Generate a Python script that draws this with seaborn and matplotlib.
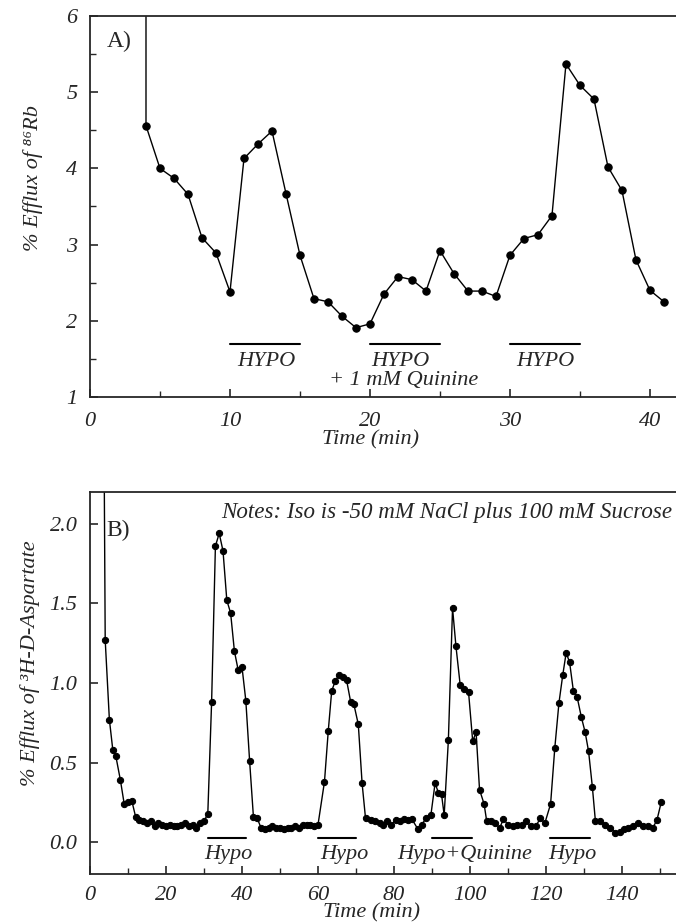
import matplotlib
matplotlib.use("Agg")
import pandas as pd
import matplotlib.pyplot as plt
import seaborn as sns

# Panel A: % efflux of 86Rb (first value is off scale, top of the wash-out)
time_a = [4, 4, 5, 6, 7, 8, 9, 10, 11, 12, 13, 14, 15, 16, 17, 18, 19, 20, 21, 22,
          23, 24, 25, 26, 27, 28, 29, 30, 31, 32, 33, 34, 35, 36, 37, 38, 39, 40, 41]
efflux_a = [7.0, 4.56, 4.00, 3.87, 3.66, 3.09, 2.89, 2.38, 4.13, 4.32, 4.49, 3.67, 2.86,
            2.29, 2.25, 2.06, 1.91, 1.96, 2.35, 2.58, 2.54, 2.39, 2.92, 2.62, 2.39, 2.39,
            2.32, 2.86, 3.08, 3.13, 3.38, 5.37, 5.09, 4.91, 4.02, 3.71, 2.80, 2.40, 2.25]
bars_a = [(10, 15), (20, 25), (30, 35)]
labels_a = ["HYPO", "HYPO", "HYPO"]
label_x_a = [12.6, 22.2, 32.5]

# Panel B: % efflux of 3H-D-aspartate
time_b = [3.7, 4, 5.1, 6, 6.8, 8, 9, 10, 11, 12,
          13, 14, 15, 16, 17, 18, 19, 20, 21, 22, 23, 24, 25, 26, 27, 28, 29, 30, 31,
          32, 33, 34, 35, 36, 37, 38, 39, 40, 41, 42, 43, 44,
          45, 46, 47, 48, 49, 50, 51, 52, 53, 54, 55, 56, 57, 58, 59, 60,
          61.7, 62.7, 63.6, 64.5, 65.5, 66.5, 67.5, 68.6, 69.4, 70.6, 71.6, 72.5,
          73.9, 75, 76.2, 77.1, 78.2, 79.3, 80.5, 81.5, 82.5, 83.6, 84.7, 86.2, 87.3, 88.4, 89.7,
          90.8, 91.7, 92.5, 93.2, 94.3, 95.4, 96.3, 97.4, 98.5, 99.6, 100.7, 101.6, 102.5, 103.7, 104.4,
          105.4, 106.6, 107.8, 108.8, 110, 111.2, 112.4, 113.6, 114.8, 116, 117.3, 118.5, 119.7,
          121.2, 122.3, 123.4, 124.4, 125.3, 126.2, 127.2, 128.2, 129.3, 130.3, 131.2, 132.2, 133,
          134.3, 135.6, 136.9, 138.2, 139.4, 140.5, 141.7, 143, 144.3, 145.6, 146.9, 148.1, 149.2, 150.3]
efflux_b = [2.5, 1.27, 0.77, 0.58, 0.54, 0.39, 0.24, 0.25, 0.26, 0.16,
            0.14, 0.13, 0.12, 0.13, 0.10, 0.12, 0.11, 0.10, 0.11, 0.10, 0.10, 0.11, 0.12, 0.10, 0.11, 0.09, 0.12, 0.13, 0.18,
            0.88, 1.86, 1.94, 1.83, 1.52, 1.44, 1.20, 1.08, 1.10, 0.89, 0.51, 0.16, 0.15,
            0.09, 0.08, 0.09, 0.10, 0.09, 0.09, 0.08, 0.09, 0.09, 0.10, 0.09, 0.11, 0.11, 0.11, 0.10, 0.11,
            0.38, 0.70, 0.95, 1.01, 1.05, 1.04, 1.02, 0.88, 0.87, 0.74, 0.37, 0.15,
            0.14, 0.13, 0.12, 0.11, 0.13, 0.11, 0.14, 0.13, 0.145, 0.14, 0.145, 0.085, 0.11, 0.15, 0.17,
            0.37, 0.31, 0.30, 0.17, 0.64, 1.47, 1.23, 0.99, 0.965, 0.945, 0.635, 0.69, 0.33, 0.24, 0.13,
            0.13, 0.12, 0.09, 0.145, 0.11, 0.10, 0.11, 0.11, 0.13, 0.10, 0.10, 0.15, 0.12,
            0.24, 0.59, 0.875, 1.05, 1.19, 1.13, 0.95, 0.91, 0.785, 0.69, 0.57, 0.345, 0.13,
            0.13, 0.11, 0.09, 0.06, 0.065, 0.08, 0.09, 0.10, 0.12, 0.10, 0.10, 0.09, 0.14, 0.25]
bars_b = [(31, 41), (60, 70), (90, 100.5), (121, 131.5)]
labels_b = ["Hypo", "Hypo", "Hypo+Quinine", "Hypo"]
label_x_b = [36.3, 66.9, 98.6, 127.0]

sns.set_style("ticks")
fams = ["Liberation Serif", "DejaVu Serif"]
plt.rcParams["font.family"] = fams
plt.rcParams["font.style"] = "italic"
plt.rcParams["axes.linewidth"] = 1.3
plt.rcParams["xtick.direction"] = "in"
plt.rcParams["ytick.direction"] = "in"

fig = plt.figure(figsize=(6.76, 9.22), dpi=100)
axA = fig.add_axes([90 / 676, 1 - 397 / 922, 1 - 90 / 676, 381 / 922])
axB = fig.add_axes([90 / 676, 1 - 874 / 922, 1 - 90 / 676, 382 / 922])

dfA = pd.DataFrame({"t": time_a, "e": efflux_a})
dfB = pd.DataFrame({"t": time_b, "e": efflux_b})

sns.lineplot(data=dfA, x="t", y="e", ax=axA, sort=False, estimator=None, color="black",
             linewidth=1.0, marker="o", markersize=5.3, markeredgecolor="black")
sns.lineplot(data=dfB, x="t", y="e", ax=axB, sort=False, estimator=None, color="black",
             linewidth=1.0, marker="o", markersize=4.5, markeredgecolor="black")

fs = 16

# panel A layout
axA.set_xlim(0, 41.86)
axA.set_ylim(1, 6)
axA.set_xticks([0, 10, 20, 30, 40])
axA.set_xticks([5, 15, 25, 35], minor=True)
axA.set_yticks([1, 2, 3, 4, 5, 6])
axA.set_yticks([1.5, 2.5, 3.5, 4.5, 5.5], minor=True)
for (x0, x1), lab, lx in zip(bars_a, labels_a, label_x_a):
    axA.plot([x0, x1], [1.69, 1.69], color="black", linewidth=1.5)
    axA.text(lx, 1.46, lab, ha="center", va="center", fontsize=fs)
axA.text(22.4, 1.22, "+ 1 mM Quinine", ha="center", va="center", fontsize=fs)
axA.text(1.2, 5.67, "A)", ha="left", va="center", fontsize=fs + 1, style="normal")
axA.set_ylabel("% Efflux of ⁸⁶Rb", fontsize=fs)
axA.set_xlabel("Time (min)", fontsize=fs)
axA.yaxis.set_label_coords(-0.08, 0.575)
axA.xaxis.set_label_coords(0.478, -0.088)

# panel B layout
axB.set_xlim(0, 154.2)
axB.set_ylim(-0.2, 2.2)
axB.set_xticks([0, 20, 40, 60, 80, 100, 120, 140])
axB.set_xticks([10, 30, 50, 70, 90, 110, 130, 150], minor=True)
axB.set_yticks([0.0, 0.5, 1.0, 1.5, 2.0])
axB.set_yticklabels(["0.0", "0.5", "1.0", "1.5", "2.0"])
for (x0, x1), lab, lx in zip(bars_b, labels_b, label_x_b):
    axB.plot([x0, x1], [0.025, 0.025], color="black", linewidth=1.5)
    axB.text(lx, -0.075, lab, ha="center", va="center", fontsize=fs)
axB.text(153.2, 2.07, "Notes: Iso is -50 mM NaCl plus 100 mM Sucrose",
         ha="right", va="center", fontsize=fs + 0.6)
axB.text(4.3, 1.96, "B)", ha="left", va="center", fontsize=fs + 1, style="normal")
axB.set_ylabel("% Efflux of ³H-D-Aspartate", fontsize=fs)
axB.set_xlabel("Time (min)", fontsize=fs)
axB.yaxis.set_label_coords(-0.085, 0.551)
axB.xaxis.set_label_coords(0.481, -0.076)

for ax in (axA, axB):
    ax.spines["right"].set_visible(False)
    ax.tick_params(axis="both", which="major", length=6, width=1.2, labelsize=fs)
    ax.tick_params(axis="both", which="minor", length=4, width=1.0)
    ax.tick_params(axis="y", pad=9)
    for t in ax.get_xticklabels() + ax.get_yticklabels():
        t.set_fontstyle("italic")
axA.tick_params(axis="x", pad=11)
axB.tick_params(axis="x", pad=8.5)

fig.savefig("out.png", dpi=100)
